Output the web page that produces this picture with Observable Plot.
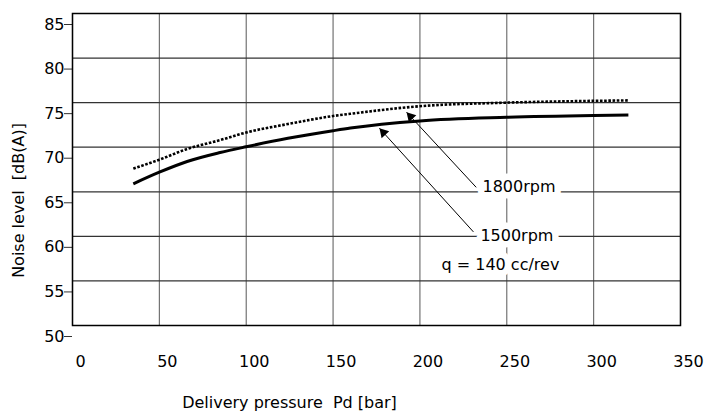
<!DOCTYPE html>
<html>
<head>
<meta charset="utf-8">
<script src="https://cdn.jsdelivr.net/npm/d3@7"></script>
<script src="https://cdn.jsdelivr.net/npm/@observablehq/plot@0.6"></script>
<style>
  html, body { margin: 0; padding: 0; background: #fff; }
  svg { display: block; }
</style>
</head>
<body>
<div id="chart"></div>
<script>
// ---- data ----
const pressure   = [35, 50, 66, 85, 100, 124, 150, 160, 200, 250, 300, 320];
const noise1500  = [65.9, 67.2, 68.4, 69.4, 70.05, 71.0, 71.85, 72.15, 72.95, 73.35, 73.55, 73.6];
const noise1800  = [67.6, 68.6, 69.8, 70.8, 71.65, 72.6, 73.5, 73.75, 74.6, 75.0, 75.2, 75.25];
const xTicks = [0, 50, 100, 150, 200, 250, 300, 350];
const yTicks = [50, 55, 60, 65, 70, 75, 80, 85];

// annotations (data units)
const annoText  = ["1800rpm", "1500rpm", "q = 140 cc/rev"];
const annoX     = [236, 234.8, 212.4];
const annoY     = [65.6, 60.1, 56.75];
const arrowTailX = [232.4, 230.8];
const arrowTailY = [65.5, 60.5];
const arrowHeadX = [192.3, 176.7];
const arrowHeadY = [73.93, 72.13];

const xTitle = "Delivery pressure \u00a0Pd [bar]";
const yTitle = "Noise level \u00a0[dB(A)]";

const rows1500 = pressure.map((p, i) => ({p, v: noise1500[i]}));
const rows1800 = pressure.map((p, i) => ({p, v: noise1800[i]}));
const labels = annoText.map((t, i) => ({t, x: annoX[i], y: annoY[i]}));
const arrows = arrowTailX.map((_, i) => ({x1: arrowTailX[i], y1: arrowTailY[i], x2: arrowHeadX[i], y2: arrowHeadY[i]}));

const base = {
  width: 705,
  height: 416,
  marginLeft: 72,
  marginRight: 25,
  marginTop: 13,
  marginBottom: 91,
  style: {fontFamily: "DejaVu Sans", fontSize: "16px", background: "white", color: "black"},
  x: {domain: [0, 350]},
  y: {domain: [50, 85]}
};

// first pass to obtain scales for arrowhead geometry
const probe = Plot.plot({...base, marks: [Plot.frame()]});
const sx = probe.scale("x"), sy = probe.scale("y");
const headR = 3.8;
const heads = arrows.map(a => {
  const X1 = sx.apply(a.x1), Y1 = sy.apply(a.y1), X2 = sx.apply(a.x2), Y2 = sy.apply(a.y2);
  const dx = X2 - X1, dy = Y2 - Y1, len = Math.hypot(dx, dy);
  const back = 1.555 * headR;
  const cx = X2 - dx / len * back, cy = Y2 - dy / len * back;
  return {x: sx.invert(cx), y: sy.invert(cy), angle: Math.atan2(dx, -dy) * 180 / Math.PI};
});

const chart = Plot.plot({
  ...base,
  marks: [
    Plot.gridX(xTicks, {stroke: "#666", strokeOpacity: 1, strokeWidth: 1.1}),
    Plot.gridY(yTicks, {stroke: "#333", strokeOpacity: 1, strokeWidth: 1.2}),
    Plot.axisY(yTicks, {tickSize: 8, tickPadding: 0, dy: 11, fontSize: 16, label: null, stroke: "#333"}),
    Plot.axisX(xTicks, {tickSize: 0, tickPadding: 30, dx: 8, fontSize: 16, label: null}),
    Plot.frame({stroke: "black", strokeWidth: 1.5}),
    Plot.text(labels, {x: "x", y: "y", text: "t", textAnchor: "start", fontSize: 16, fill: "black",
      stroke: "white", strokeWidth: 13, strokeLinejoin: "round", paintOrder: "stroke"}),
    Plot.link(arrows, {x1: "x1", y1: "y1", x2: "x2", y2: "y2", stroke: "black", strokeWidth: 1}),
    Plot.dot(heads, {x: "x", y: "y", symbol: "triangle", r: headR, rotate: "angle", fill: "black", stroke: "none"}),
    Plot.line(rows1800, {x: "p", y: "v", curve: "monotone-x", stroke: "black", strokeWidth: 2.6,
      strokeDasharray: "2.6,1.6", strokeLinecap: "butt"}),
    Plot.line(rows1500, {x: "p", y: "v", curve: "monotone-x", stroke: "black", strokeWidth: 3, strokeLinecap: "butt"}),
    Plot.text([yTitle], {frameAnchor: "left", textAnchor: "middle", rotate: -90, dx: -54, dy: 31, fontSize: 16}),
    Plot.text([xTitle], {frameAnchor: "bottom", textAnchor: "middle", dx: -87, dy: 82, fontSize: 16})
  ]
});
document.getElementById("chart").appendChild(chart);
</script>
</body>
</html>
